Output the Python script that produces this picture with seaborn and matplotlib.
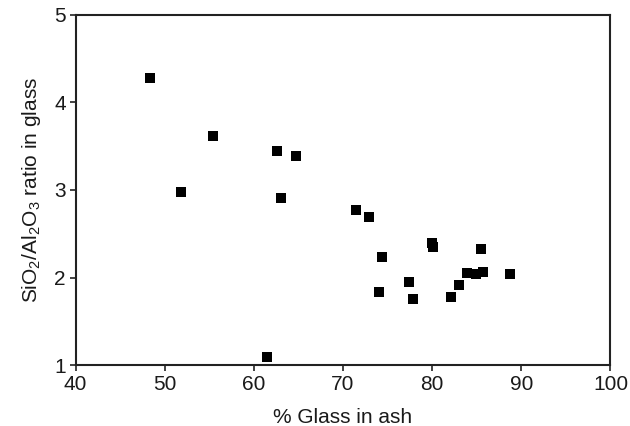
import matplotlib
matplotlib.use('Agg')
import matplotlib.pyplot as plt
import seaborn as sns
import pandas as pd

# ─── Données ───
glass_pct = [48.4, 51.8, 55.4, 62.6, 64.7, 63.0, 61.5, 71.5, 72.9, 74.4,
             74.0, 77.4, 77.8, 80.0, 80.1, 85.5, 83.9, 84.9, 85.7, 83.0,
             82.1, 88.7]
sio2_al2o3 = [4.28, 2.98, 3.62, 3.45, 3.39, 2.91, 1.09, 2.77, 2.69, 2.24,
              1.83, 1.95, 1.76, 2.39, 2.35, 2.33, 2.05, 2.04, 2.06, 1.92,
              1.78, 2.04]

df = pd.DataFrame({'glass': glass_pct, 'ratio': sio2_al2o3})

sns.set_style('ticks')
plt.rcParams['font.family'] = ['Liberation Sans', 'DejaVu Sans']
plt.rcParams['mathtext.default'] = 'regular'

fig = plt.figure(figsize=(6.3, 4.26), dpi=100)
ax = fig.add_axes([0.120, 0.143, 0.849, 0.822])

sns.scatterplot(data=df, x='glass', y='ratio', marker='s', color='black',
                s=52, edgecolor='none', ax=ax)

ax.set_xlim(40, 100)
ax.set_ylim(1, 5)
ax.set_xticks([40, 50, 60, 70, 80, 90, 100])
ax.set_yticks([1, 2, 3, 4, 5])
ax.tick_params(direction='out', length=4, width=1.2, labelsize=15,
               color='#222222', labelcolor='#1a1a1a', pad=3)
for sp in ax.spines.values():
    sp.set_linewidth(1.5)
    sp.set_color('#222222')

ax.set_xlabel('% Glass in ash', fontsize=15, labelpad=10, color='#1a1a1a')
ax.set_ylabel('SiO$_2$/Al$_2$O$_3$ ratio in glass', fontsize=15,
              labelpad=8, color='#1a1a1a')

plt.savefig('out.png', dpi=100)
